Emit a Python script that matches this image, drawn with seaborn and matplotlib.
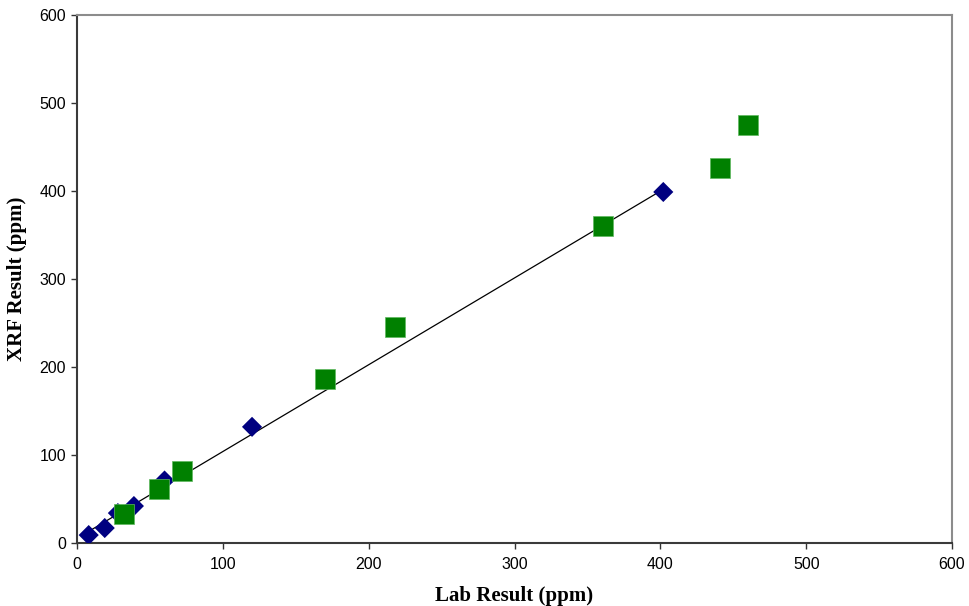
#%% import tools and libraries
import pandas as pd
import seaborn as sb
import matplotlib.pyplot as plt

#%% data (ppm)
lab_a = [8, 19, 28, 39, 60, 120, 402]
xrf_a = [9, 17, 34, 42, 71, 132, 399]

lab_b = [32, 56, 72, 170, 218, 361, 441, 460]
xrf_b = [33, 61, 82, 186, 245, 360, 426, 475]

ticks = [0, 100, 200, 300, 400, 500, 600]

set_a = pd.DataFrame({'lab': lab_a, 'xrf': xrf_a})
set_b = pd.DataFrame({'lab': lab_b, 'xrf': xrf_b})

#%% plot
sb.set_style('white')
plt.rcParams['font.family'] = ['Liberation Sans', 'DejaVu Sans']

fig = plt.figure(figsize=(9.69, 6.06), dpi=100)
ax = fig.add_axes([0.0795, 0.104, 0.903, 0.871])

# linear trend line through the first set
sb.regplot(data=set_a, x='lab', y='xrf', scatter=False, ci=None, ax=ax,
           line_kws={'color': 'black', 'lw': 0.9})
sb.scatterplot(data=set_a, x='lab', y='xrf', marker='D', s=105, color='#000080',
               edgecolor='none', ax=ax, zorder=3)
sb.scatterplot(data=set_b, x='lab', y='xrf', marker='s', s=190, color='#008000',
               edgecolor='#5fb85f', linewidth=0.5, ax=ax, zorder=4)

ax.set_xlim(0, 600)
ax.set_ylim(0, 600)
ax.set_xticks(ticks)
ax.set_yticks(ticks)
ax.tick_params(direction='out', length=4, width=1, labelsize=11.5, colors='#333333',
               labelcolor='black', bottom=True, left=True)
ax.tick_params(axis='x', pad=6)
ax.tick_params(axis='y', pad=4)

for side in ['left', 'bottom']:
    ax.spines[side].set_color('#3a3a3a')
    ax.spines[side].set_linewidth(1.5)
for side in ['top', 'right']:
    ax.spines[side].set_color('#8c8c8c')
    ax.spines[side].set_linewidth(1.5)

ax.set_xlabel('Lab Result (ppm)', family='Liberation Serif', fontweight='bold',
              fontsize=15, labelpad=10, color='black')
ax.set_ylabel('XRF Result (ppm)', family='Liberation Serif', fontweight='bold',
              fontsize=15, labelpad=9, color='black')

fig.savefig('out.png', dpi=100)
